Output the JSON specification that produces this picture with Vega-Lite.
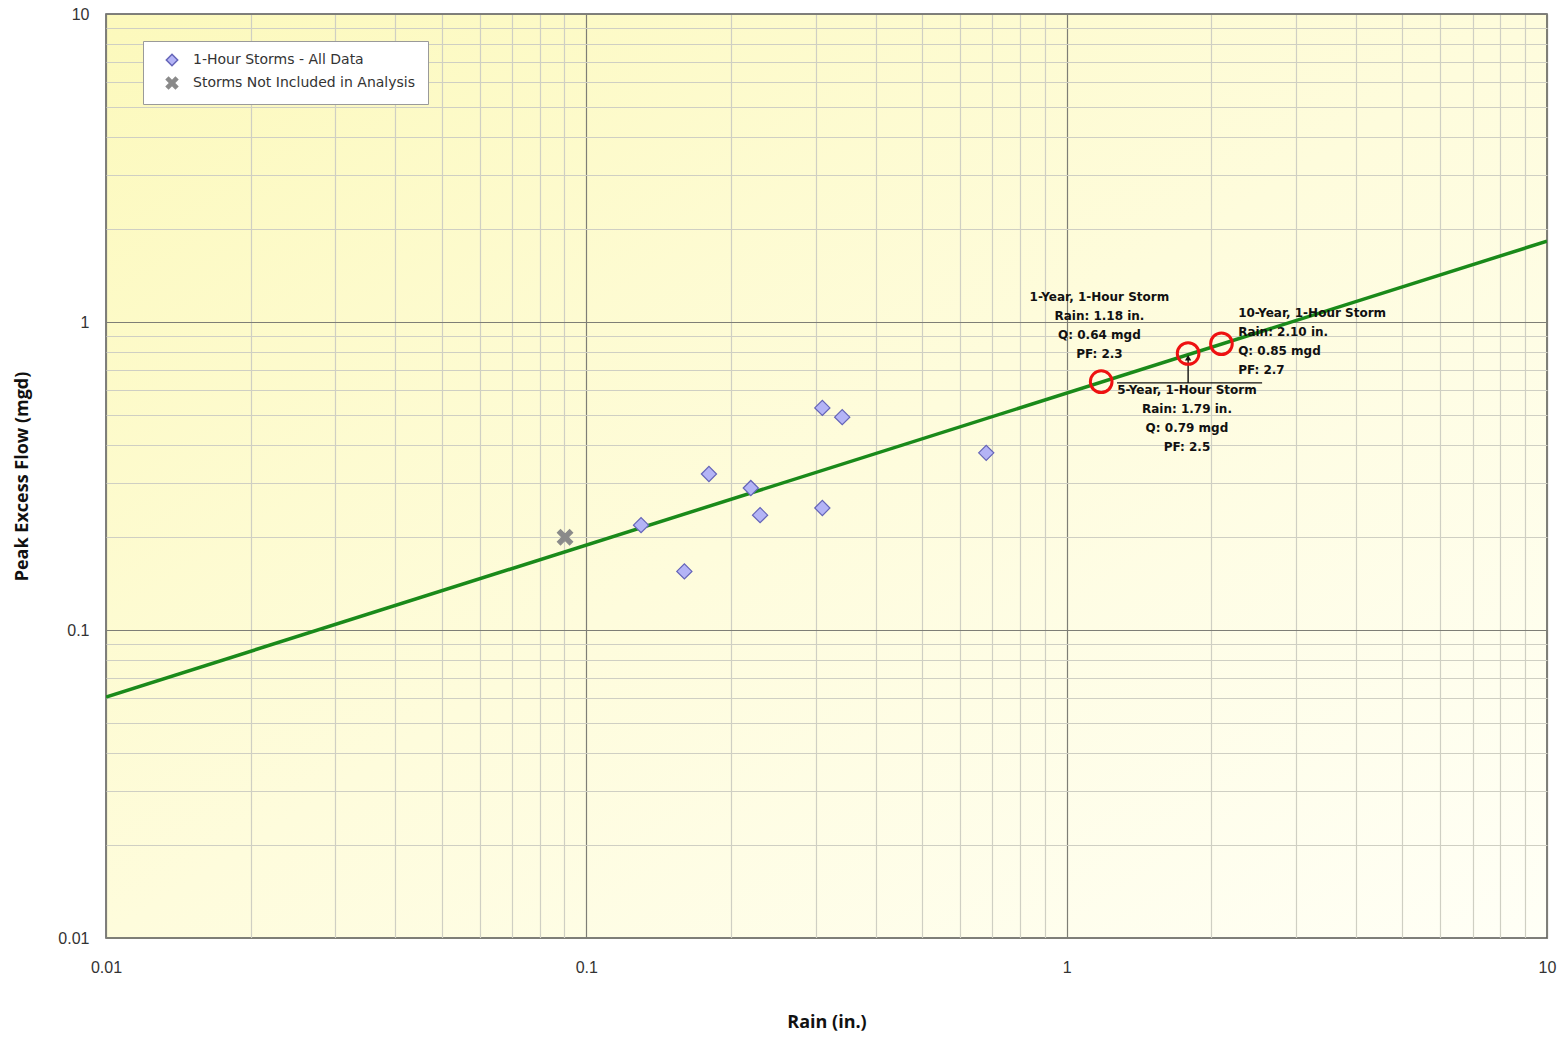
{
  "$schema": "https://vega.github.io/schema/vega-lite/v6.json",
  "width": 1441,
  "height": 924,
  "autosize": {"type": "none"},
  "padding": {"left": 106, "top": 14, "right": 21, "bottom": 100},
  "background": "white",
  "config": {
    "view": {
      "stroke": "#555555",
      "strokeWidth": 1.5,
      "fill": {"gradient": "linear", "x1": 0, "y1": 0, "x2": 1, "y2": 1,
        "stops": [{"offset": 0, "color": "#fcf9bc"}, {"offset": 0.5, "color": "#fefcdc"}, {"offset": 1, "color": "#fffff6"}]}
    },
    "axis": {
      "ticks": false,
      "domain": false,
      "labelFlush": false,
      "labelOverlap": false,
      "gridOpacity": 1
    }
  },
  "datasets": {
    "fit": [
      {"rain": 0.01, "flow": 0.0606},
      {"rain": 10, "flow": 1.83}
    ],
    "storms": [
      {"rain": 0.130, "flow": 0.219, "group": "1-Hour Storms - All Data"},
      {"rain": 0.160, "flow": 0.155, "group": "1-Hour Storms - All Data"},
      {"rain": 0.180, "flow": 0.321, "group": "1-Hour Storms - All Data"},
      {"rain": 0.220, "flow": 0.289, "group": "1-Hour Storms - All Data"},
      {"rain": 0.230, "flow": 0.236, "group": "1-Hour Storms - All Data"},
      {"rain": 0.310, "flow": 0.526, "group": "1-Hour Storms - All Data"},
      {"rain": 0.310, "flow": 0.249, "group": "1-Hour Storms - All Data"},
      {"rain": 0.341, "flow": 0.491, "group": "1-Hour Storms - All Data"},
      {"rain": 0.680, "flow": 0.376, "group": "1-Hour Storms - All Data"},
      {"rain": 0.0903, "flow": 0.200, "group": "Storms Not Included in Analysis"}
    ],
    "design": [
      {"rain": 1.18, "flow": 0.64, "storm": "1-Year, 1-Hour Storm"},
      {"rain": 1.79, "flow": 0.79, "storm": "5-Year, 1-Hour Storm"},
      {"rain": 2.10, "flow": 0.85, "storm": "10-Year, 1-Hour Storm"}
    ],
    "labelsCenter": [
      {"rain": 1.17, "flow": 1.25, "text": ["1-Year, 1-Hour Storm", "Rain: 1.18 in.", "Q: 0.64 mgd", "PF: 2.3"]},
      {"rain": 1.78, "flow": 0.624, "text": ["5-Year, 1-Hour Storm", "Rain: 1.79 in.", "Q: 0.79 mgd", "PF: 2.5"]}
    ],
    "labelsLeft": [
      {"rain": 2.275, "flow": 1.11, "text": ["10-Year, 1-Hour Storm", "Rain: 2.10 in.", "Q: 0.85 mgd", "PF: 2.7"]}
    ],
    "leaderH": [
      {"rain": 1.273, "rain2": 2.552, "flow": 0.634}
    ],
    "leaderV": [
      {"rain": 1.79, "flow": 0.634, "flow2": 0.765}
    ]
  },
  "layer": [
    {
      "data": {"name": "fit"},
      "mark": {"type": "line", "color": "#1a8a1a", "strokeWidth": 3.5, "clip": true},
      "encoding": {
        "x": {
          "field": "rain", "type": "quantitative",
          "scale": {"type": "log", "domain": [0.01, 10], "nice": false},
          "axis": {
            "title": "Rain (in.)",
            "titleFont": "Open Sans",
            "titleFontSize": 18,
            "titleFontWeight": "bold",
            "titleColor": "#111111",
            "titlePadding": 38,
            "labelFont": "Liberation Sans",
            "labelFontSize": 16,
            "labelColor": "#333333",
            "labelPadding": 21,
            "values": [0.01, 0.02, 0.03, 0.04, 0.05, 0.06, 0.07, 0.08, 0.09, 0.1, 0.2, 0.3, 0.4, 0.5, 0.6, 0.7, 0.8, 0.9, 1, 2, 3, 4, 5, 6, 7, 8, 9, 10],
            "labelExpr": "indexof([0.01, 0.1, 1, 10], datum.value) >= 0 ? datum.label : ''",
            "gridColor": {"condition": {"test": "indexof([0.01, 0.1, 1, 10], datum.value) >= 0", "value": "#7e7e76"}, "value": "#cfcfc3"},
            "gridWidth": 1.2
          }
        },
        "y": {
          "field": "flow", "type": "quantitative",
          "scale": {"type": "log", "domain": [0.01, 10], "nice": false},
          "axis": {
            "title": "Peak Excess Flow (mgd)",
            "titleFont": "Open Sans",
            "titleFontSize": 18,
            "titleFontWeight": "bold",
            "titleColor": "#111111",
            "titlePadding": 26,
            "labelFont": "Liberation Sans",
            "labelFontSize": 16,
            "labelColor": "#333333",
            "labelPadding": 17,
            "values": [0.01, 0.02, 0.03, 0.04, 0.05, 0.06, 0.07, 0.08, 0.09, 0.1, 0.2, 0.3, 0.4, 0.5, 0.6, 0.7, 0.8, 0.9, 1, 2, 3, 4, 5, 6, 7, 8, 9, 10],
            "labelExpr": "indexof([0.01, 0.1, 1, 10], datum.value) >= 0 ? datum.label : ''",
            "gridColor": {"condition": {"test": "indexof([0.01, 0.1, 1, 10], datum.value) >= 0", "value": "#7e7e76"}, "value": "#cfcfc3"},
            "gridWidth": 1.2
          }
        }
      }
    },
    {
      "data": {"name": "storms"},
      "mark": {"type": "point", "filled": true, "opacity": 1, "strokeWidth": 1.2},
      "encoding": {
        "x": {"field": "rain", "type": "quantitative"},
        "y": {"field": "flow", "type": "quantitative"},
        "shape": {
          "field": "group", "type": "nominal",
          "scale": {"domain": ["1-Hour Storms - All Data", "Storms Not Included in Analysis"], "range": ["diamond", "M-1,-0.6L-0.6,-1L0,-0.4L0.6,-1L1,-0.6L0.4,0L1,0.6L0.6,1L0,0.4L-0.6,1L-1,0.6L-0.4,0Z"]},
          "legend": {
            "title": null,
            "orient": "none",
            "legendX": 37,
            "legendY": 27,
            "padding": 12,
            "fillColor": "white",
            "strokeColor": "#9a9a9a",
            "labelFont": "DejaVu Sans",
            "labelFontSize": 14,
            "labelColor": "#333333",
            "labelLimit": 500,
            "symbolSize": 130,
            "symbolOffset": 10,
            "rowPadding": 5,
            "labelOffset": 14,
            "offset": 0
          }
        },
        "fill": {
          "field": "group", "type": "nominal",
          "scale": {"domain": ["1-Hour Storms - All Data", "Storms Not Included in Analysis"], "range": ["#b4b4f6", "#8a8a8a"]}
        },
        "stroke": {
          "field": "group", "type": "nominal",
          "scale": {"domain": ["1-Hour Storms - All Data", "Storms Not Included in Analysis"], "range": ["#6464b8", "#8a8a8a"]}
        },
        "size": {"value": 230}
      }
    },
    {
      "data": {"name": "leaderH"},
      "mark": {"type": "rule", "color": "#111111", "strokeWidth": 1.2},
      "encoding": {
        "x": {"field": "rain", "type": "quantitative"},
        "x2": {"field": "rain2"},
        "y": {"field": "flow", "type": "quantitative"}
      }
    },
    {
      "data": {"name": "leaderV"},
      "mark": {"type": "rule", "color": "#111111", "strokeWidth": 1.4},
      "encoding": {
        "x": {"field": "rain", "type": "quantitative"},
        "y": {"field": "flow", "type": "quantitative"},
        "y2": {"field": "flow2"}
      }
    },
    {
      "data": {"name": "leaderV"},
      "mark": {"type": "point", "shape": "triangle-up", "filled": true, "color": "#111111", "size": 40, "opacity": 1},
      "encoding": {
        "x": {"field": "rain", "type": "quantitative"},
        "y": {"field": "flow2", "type": "quantitative"}
      }
    },
    {
      "data": {"name": "design"},
      "mark": {"type": "point", "shape": "circle", "filled": false, "stroke": "#ee1111", "strokeWidth": 3, "size": 470, "opacity": 1},
      "encoding": {
        "x": {"field": "rain", "type": "quantitative"},
        "y": {"field": "flow", "type": "quantitative"}
      }
    },
    {
      "data": {"name": "labelsCenter"},
      "mark": {"type": "text", "font": "DejaVu Sans", "fontSize": 12, "fontWeight": "bold", "color": "#111111", "baseline": "top", "lineHeight": 19, "align": "center"},
      "encoding": {
        "x": {"field": "rain", "type": "quantitative"},
        "y": {"field": "flow", "type": "quantitative"},
        "text": {"field": "text"}
      }
    },
    {
      "data": {"name": "labelsLeft"},
      "mark": {"type": "text", "font": "DejaVu Sans", "fontSize": 12, "fontWeight": "bold", "color": "#111111", "baseline": "top", "lineHeight": 19, "align": "left"},
      "encoding": {
        "x": {"field": "rain", "type": "quantitative"},
        "y": {"field": "flow", "type": "quantitative"},
        "text": {"field": "text"}
      }
    }
  ]
}
